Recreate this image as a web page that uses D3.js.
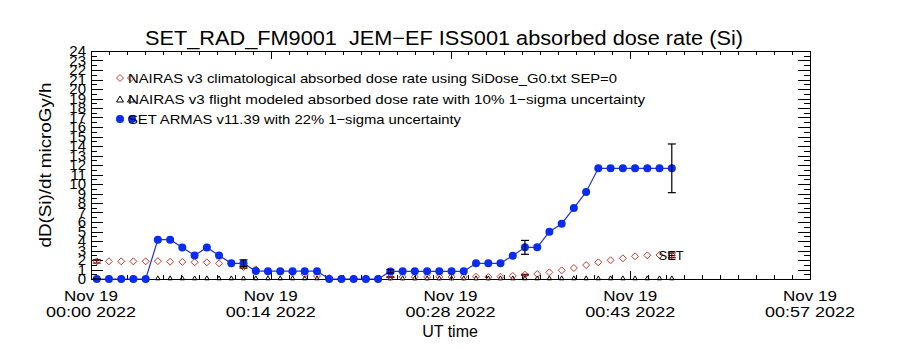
<!DOCTYPE html>
<html>
<head>
<meta charset="utf-8">
<script src="https://cdn.jsdelivr.net/npm/d3@7"></script>
<style>
  body { margin: 0; background: #fff; }
  text { font-family: "Liberation Sans", Arial, sans-serif; fill: #000; white-space: pre; }
</style>
</head>
<body>
<div id="plot"></div>
<script>
// minutes after 2022-11-19 00:00 UT
const times = [0.46, 1.43, 2.41, 3.38, 4.36, 5.33, 6.31, 7.28, 8.26, 9.24,
  10.21, 11.19, 12.16, 13.14, 14.11, 15.09, 16.07, 17.04, 18.02, 18.99,
  19.97, 20.94, 21.92, 22.89, 23.87, 24.85, 25.82, 26.80, 27.77, 28.75,
  29.72, 30.70, 31.68, 32.65, 33.63, 34.60, 35.58, 36.55, 37.53, 38.50,
  39.48, 40.45, 41.43, 42.41, 43.38, 44.36, 45.33, 46.31];

// SET ARMAS v11.39
const setDose = [0, 0, 0, 0, 0, 4.14, 4.14, 3.32, 2.48, 3.32,
  2.48, 1.65, 1.65, 0.83, 0.82, 0.82, 0.82, 0.82, 0.82, 0,
  0, 0, 0, 0, 0.8, 0.81, 0.81, 0.81, 0.81, 0.81,
  0.81, 1.65, 1.65, 1.65, 2.46, 3.33, 3.33, 4.98, 5.82, 7.47,
  9.16, 11.65, 11.65, 11.65, 11.65, 11.65, 11.65, 11.65];

// NAIRAS v3 climatological
const nairasClim = [1.86, 1.86, 1.86, 1.86, 1.86, 1.88, 1.82, 1.8, 1.76, 1.76,
  1.65, 1.65, 1.26, 1.02, 0.77, 0.77, 0.67, 0.49, 0.32, 0.1,
  0.06, 0.06, 0.06, 0.06, 0.2, 0.22, 0.22, 0.22, 0.22, 0.22,
  0.22, 0.24, 0.22, 0.24, 0.32, 0.45, 0.52, 0.7, 0.91, 1.16,
  1.47, 1.76, 1.97, 2.18, 2.39, 2.49, 2.53, 2.49];

// NAIRAS v3 flight modeled (no values: plotted at zero)
const nairasFlight = [0, 0, 0, 0, 0, 0, 0, 0, 0, 0, 0, 0, 0, 0, 0, 0,
  0, 0, 0, 0, 0, 0, 0, 0, 0, 0, 0, 0, 0, 0, 0, 0,
  0, 0, 0, 0, 0, 0, 0, 0, 0, 0, 0, 0, 0, 0, 0, 0];

const errIdx = [0, 12, 24, 35, 47];
const setErr = 0.22, nairasErr = 0.10;

const xTicks = [0, 14.33, 28.67, 43.0, 57.33];
const xTickLabels = [["Nov 19", "00:00 2022"], ["Nov 19", "00:14 2022"], ["Nov 19", "00:28 2022"],
  ["Nov 19", "00:43 2022"], ["Nov 19", "00:57 2022"]];
const yTicks = [0, 1, 2, 3, 4, 5, 6, 7, 8, 9, 10, 11, 12, 13, 14, 15, 16, 17, 18, 19, 20, 21, 22, 23, 24];

const legendLabels = [
  "NAIRAS v3 climatological absorbed dose rate using SiDose_G0.txt SEP=0",
  "NAIRAS v3 flight modeled absorbed dose rate with 10% 1\u2212sigma uncertainty",
  "SET ARMAS v11.39 with 22% 1\u2212sigma uncertainty"];

const width = 900, height = 350;
const margin = {top: 51, right: 90, bottom: 71, left: 91};

const svg = d3.select('#plot').append('svg')
  .attr('width', width).attr('height', height);

const x = d3.scaleLinear().domain([0, 57.33]).range([margin.left, width - margin.right]);
const y = d3.scaleLinear().domain([0, 24]).range([height - margin.bottom, margin.top]);

// frame
const frame = svg.append('g').attr('stroke', '#000').attr('stroke-width', 1).attr('fill', 'none');
frame.append('rect')
  .attr('x', x(0) + 0.5).attr('y', y(24) + 0.5)
  .attr('width', x(57.33) - x(0)).attr('height', y(0) - y(24));

// x minor/major ticks, top and bottom
const xMinor = d3.range(0, 40).map(k => k * 57.33 / 40);
xMinor.forEach((t, k) => {
  const len = k % 10 === 0 ? 8 : 4;
  frame.append('line').attr('x1', Math.round(x(t)) + 0.5).attr('x2', Math.round(x(t)) + 0.5)
    .attr('y1', y(24)).attr('y2', y(24) + len);
  frame.append('line').attr('x1', Math.round(x(t)) + 0.5).attr('x2', Math.round(x(t)) + 0.5)
    .attr('y1', y(0)).attr('y2', y(0) - len);
});

// y ticks left and right
d3.range(0, 48).map(k => k / 2).forEach((v, k) => {
  const len = k % 2 === 0 ? 12 : 6;
  const yy = Math.round(y(v)) + 0.5;
  frame.append('line').attr('x1', x(0)).attr('x2', x(0) + len).attr('y1', yy).attr('y2', yy);
  frame.append('line').attr('x1', x(57.33)).attr('x2', x(57.33) - len).attr('y1', yy).attr('y2', yy);
});

// y tick labels (crowded, as in the original)
svg.append('g').selectAll('text').data(yTicks).join('text')
  .attr('x', x(0) - 5).attr('y', d => y(d) + 5)
  .attr('text-anchor', 'end').attr('font-size', 15)
  .text(d => d);

// x tick labels
const xl = svg.append('g').selectAll('g').data(xTicks).join('g');
xl.append('text').attr('x', d => x(d)).attr('y', 301).attr('text-anchor', 'middle')
  .attr('font-size', 15).attr('textLength', 54).attr('lengthAdjust', 'spacingAndGlyphs')
  .text((d, i) => xTickLabels[i][0]);
xl.append('text').attr('x', d => x(d)).attr('y', 317).attr('text-anchor', 'middle')
  .attr('font-size', 15).attr('textLength', 90).attr('lengthAdjust', 'spacingAndGlyphs')
  .text((d, i) => xTickLabels[i][1]);

// axis titles
svg.append('text').attr('x', 450).attr('y', 337).attr('text-anchor', 'middle')
  .attr('font-size', 16).text('UT time');
svg.append('text').attr('transform', 'translate(51,165) rotate(-90)')
  .attr('text-anchor', 'middle').attr('font-size', 17)
  .attr('textLength', 165).attr('lengthAdjust', 'spacingAndGlyphs')
  .text('dD(Si)/dt microGy/h');
svg.append('text').attr('x', 444).attr('y', 45).attr('text-anchor', 'middle')
  .attr('font-size', 20).attr('textLength', 598).attr('lengthAdjust', 'spacingAndGlyphs')
  .text('SET_RAD_FM9001  JEM\u2212EF ISS001 absorbed dose rate (Si)');

const plot = svg.append('g');

// symbols
const diamond = (g, cx, cy) => g.append('path')
  .attr('d', `M${cx},${cy - 3.5}L${cx + 3.5},${cy}L${cx},${cy + 3.5}L${cx - 3.5},${cy}Z`)
  .attr('fill', 'none').attr('stroke', '#c23a2e').attr('stroke-width', 1);
const triangle = (g, cx, cy, s) => g.append('path')
  .attr('d', `M${cx},${cy - 2 * s}L${cx + 1.75 * s},${cy + s}L${cx - 1.75 * s},${cy + s}Z`)
  .attr('fill', 'none').attr('stroke', '#000').attr('stroke-width', 1);
const dot = (g, cx, cy) => g.append('circle')
  .attr('cx', cx).attr('cy', cy).attr('r', 4).attr('fill', '#0a2cf0');

// flight modeled triangles (all at zero, mostly hidden under the axis)
const flight = plot.append('g');
nairasFlight.forEach((v, i) => triangle(flight, x(times[i]), y(v) - 0.5, 1.3));

// climatological diamonds
nairasClim.forEach((v, i) => diamond(plot, x(times[i]), y(v)));

// SET line + dots
plot.append('path').datum(setDose)
  .attr('fill', 'none').attr('stroke', '#1f35c8').attr('stroke-width', 1.2)
  .attr('d', d3.line().x((d, i) => x(times[i])).y(d => y(d)));
setDose.forEach((v, i) => dot(plot, x(times[i]), y(v)));

// error bars
const errBar = (cx, v, frac, color) => {
  const lo = y(v * (1 - frac)), hi = y(v * (1 + frac));
  const g = plot.append('g').attr('stroke', color).attr('stroke-width', 1.2);
  g.append('line').attr('x1', cx).attr('x2', cx).attr('y1', lo).attr('y2', hi);
  g.append('line').attr('x1', cx - 4).attr('x2', cx + 4).attr('y1', lo).attr('y2', lo);
  g.append('line').attr('x1', cx - 4).attr('x2', cx + 4).attr('y1', hi).attr('y2', hi);
};
errIdx.forEach(i => {
  errBar(x(times[i]), nairasClim[i], nairasErr, '#6b1010');
  errBar(x(times[i]), setDose[i], setErr, '#000');
});

// SET label at end of climatology curve
svg.append('text').attr('x', x(times[46]) - 1).attr('y', y(nairasClim[46]) + 5)
  .attr('font-size', 13).text('SET');

// legend
const legRows = [83, 104, 124];
const leg = svg.append('g');
legendLabels.forEach((s, i) => {
  const cy = legRows[i] - 5;
  if (i === 0) { diamond(leg, 120, cy); diamond(leg, 131, cy); }
  if (i === 1) { triangle(leg, 120, cy + 1, 2); triangle(leg, 131, cy + 1, 2); }
  if (i === 2) { dot(leg, 120, cy); dot(leg, 132, cy); }
});
leg.selectAll('text').data(legendLabels).join('text')
  .attr('x', 128).attr('y', (d, i) => legRows[i])
  .attr('font-size', 13)
  .attr('textLength', (d, i) => [489, 517, 333][i]).attr('lengthAdjust', 'spacingAndGlyphs')
  .text(d => d);
</script>
</body>
</html>
